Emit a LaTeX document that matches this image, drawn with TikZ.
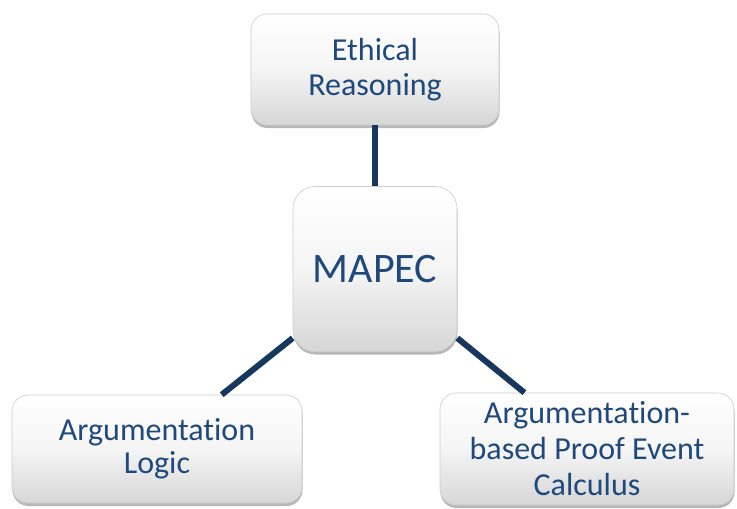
\documentclass[tikz,border=0pt]{standalone}
\usepackage{fontspec}
\setmainfont{Carlito}[Ligatures=NoCommon]
\usetikzlibrary{shadows,shadings}
\definecolor{txtblue}{RGB}{31,73,125}
\definecolor{linknavy}{RGB}{23,55,94}
\definecolor{boxedge}{RGB}{205,205,205}
\tikzset{
  softbox/.style={rounded corners=16pt, draw=boxedge, line width=0.6pt,
    top color=white, bottom color=black!16, middle color=white!96!black,
    shading angle=0,
    drop shadow={shadow xshift=0.5pt, shadow yshift=-3pt, opacity=0.4, fill=black!70},
    text=txtblue, align=center, inner sep=0pt,
    font=\fontsize{32}{35}\selectfont},
  link/.style={draw=linknavy, line width=6pt}
}
\begin{document}
\begin{tikzpicture}[x=1pt,y=-1pt]
  \useasboundingbox (0,0) rectangle (737,509);
  % the four boxes
  \node[softbox, minimum width=248pt, minimum height=111pt] (eth) at (375,69.5)
    {Ethical\\Reasoning};
  \node[softbox, minimum width=164pt, minimum height=165pt, rounded corners=22pt,
        font=\fontsize{42}{46}\selectfont] (mapec) at (375,269) {MAPEC};
  \node[softbox, minimum width=290pt, minimum height=108pt,
        font=\fontsize{32}{33}\selectfont] (logic) at (157,449)
    {Argumentation\\Logic};
  \node[softbox, minimum width=294pt, minimum height=112pt,
        font=\fontsize{32}{36}\selectfont] (apec) at (587,449)
    {Argumentation-\\based Proof Event\\Calculus};
  % connectors
  \draw[link] (eth.south) -- (mapec.north);
  \draw[link] (mapec.220) -- (logic.40);
  \draw[link] (mapec.320) -- (apec.138);
\end{tikzpicture}
\end{document}
